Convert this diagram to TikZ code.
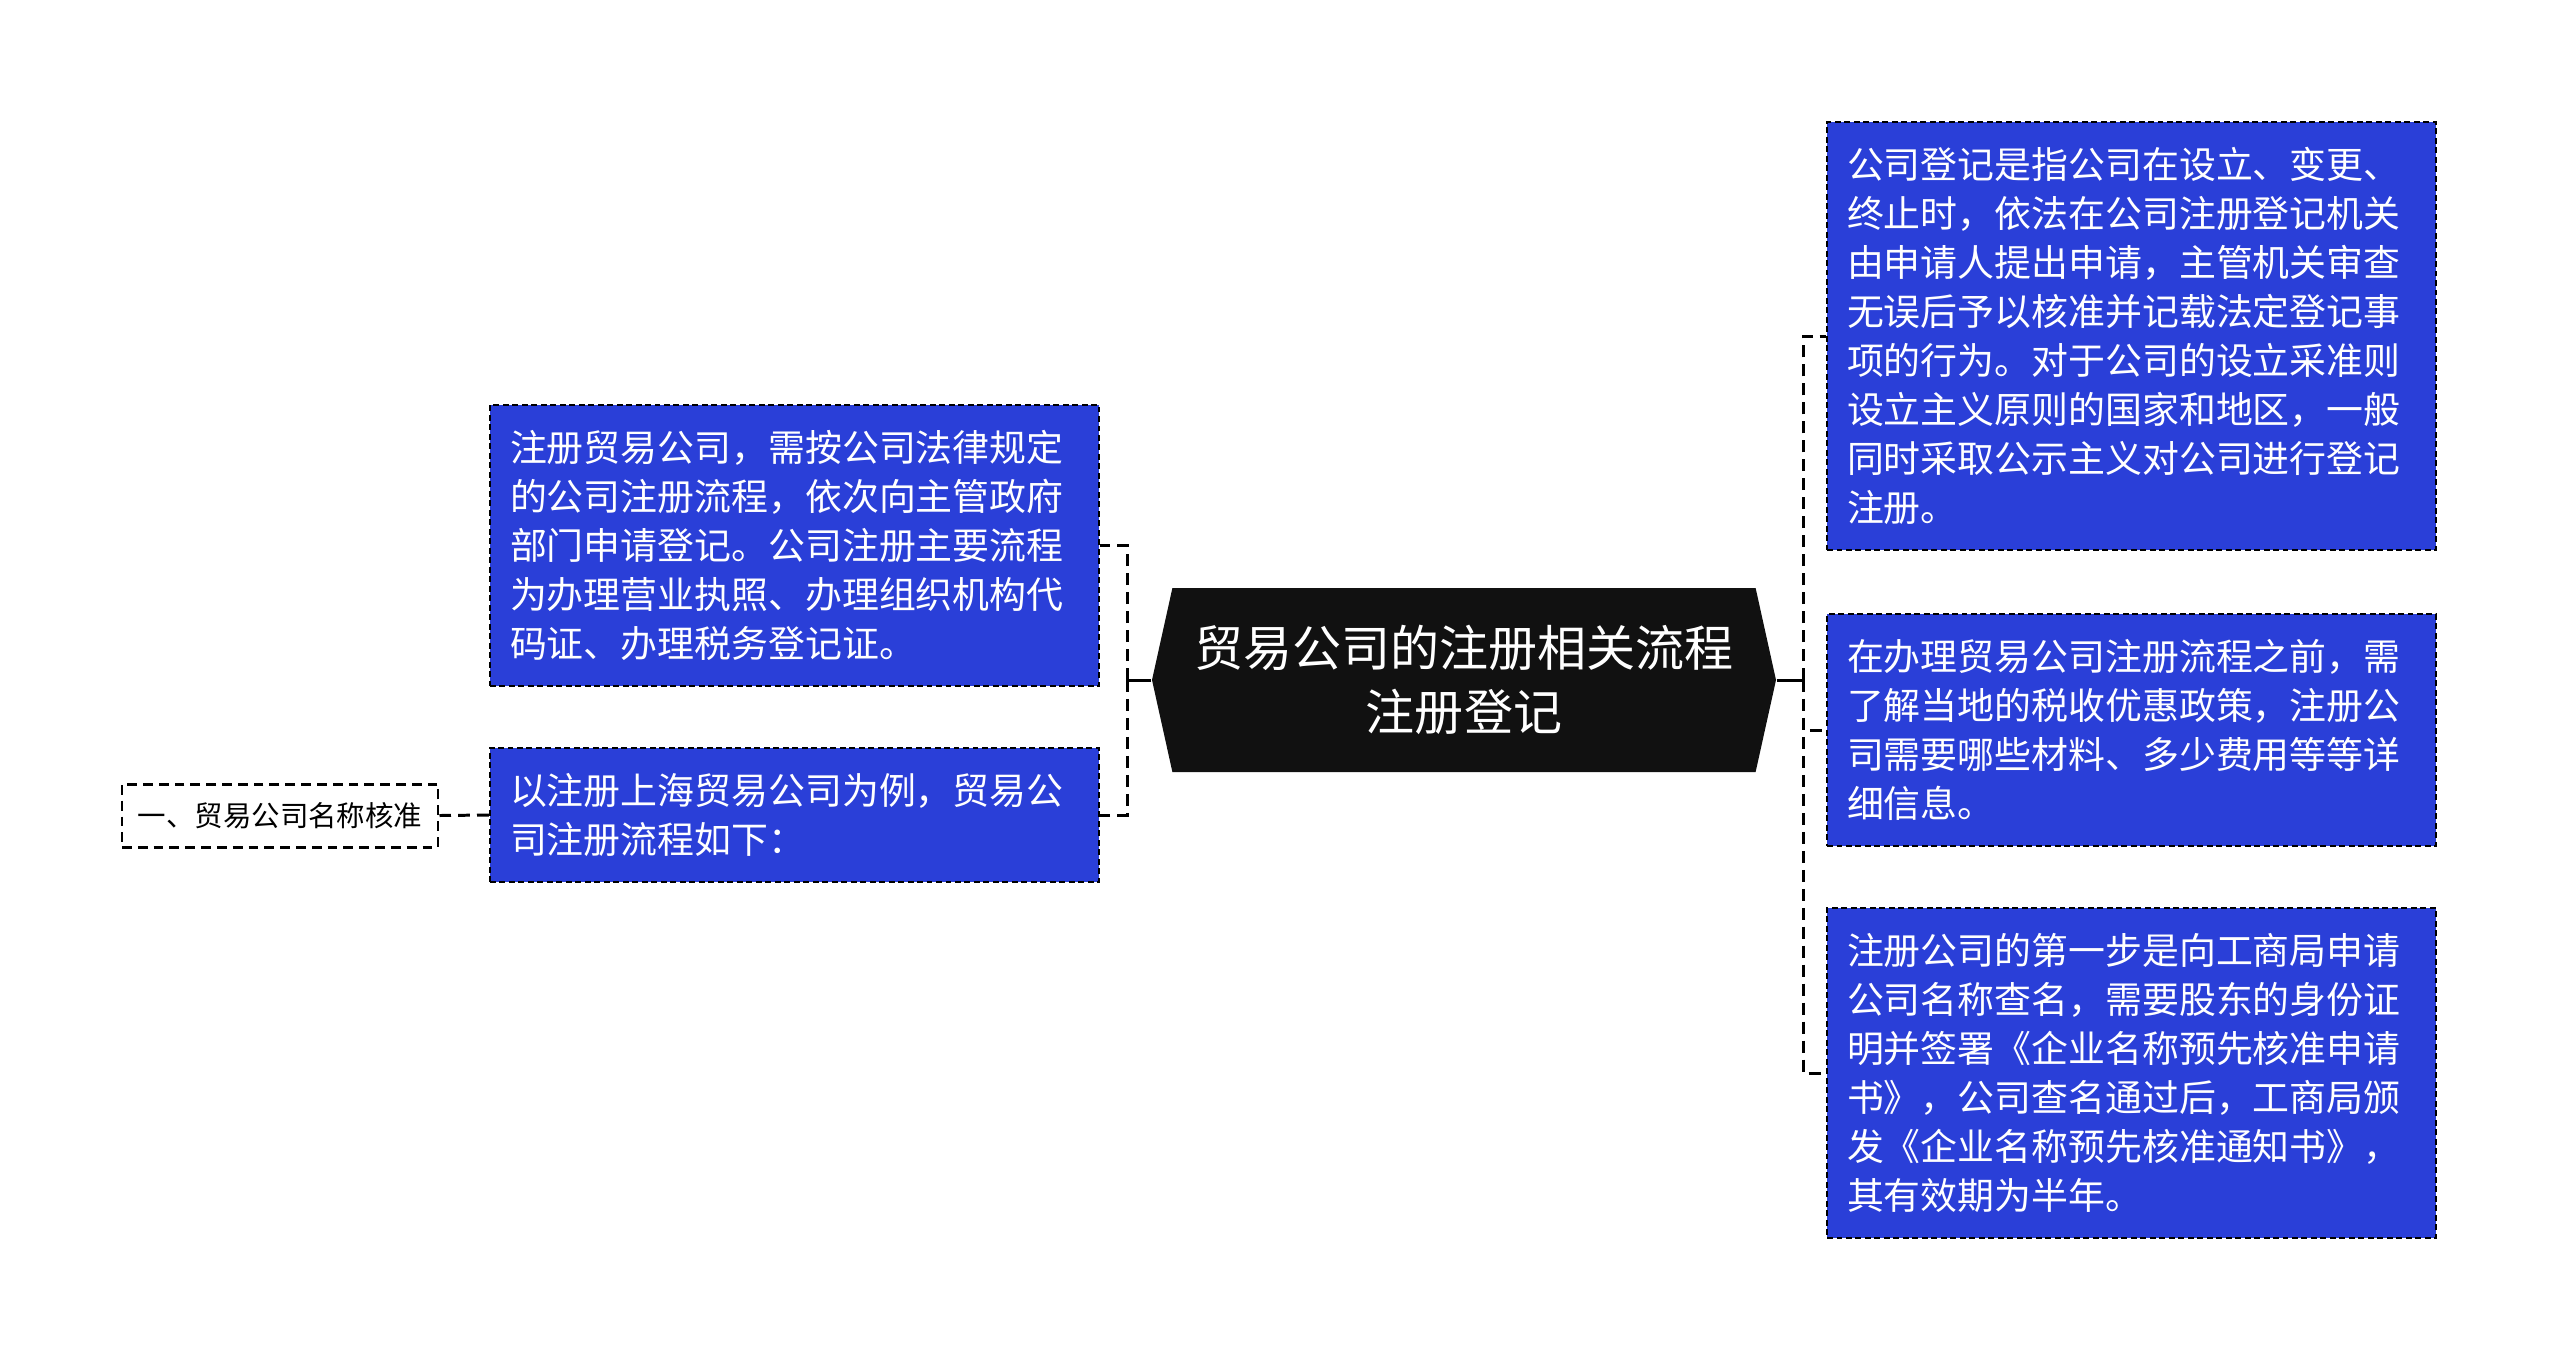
\documentclass[tikz,border=0pt]{standalone}
\usepackage{fontspec}
\setmainfont{Noto Sans CJK SC}
\usetikzlibrary{shapes.symbols}

\definecolor{boxblue}{HTML}{2A3FD8}
\definecolor{topicblack}{HTML}{111111}

\tikzset{
  topic/.style={shape=signal, signal to=west and east, signal pointer angle=155,
    fill=topicblack, text=white, minimum width=6.24cm, minimum height=1.84cm,
    inner sep=0pt, align=center, font=\fontsize{13.95}{18.2}\selectfont},
  note/.style={rectangle, fill=boxblue, draw=black, line width=0.6pt,
    dash pattern=on 1.7pt off 1pt, text=white, text width=5.69cm,
    inner xsep=0.2cm, inner ysep=0pt, align=left,
    font=\fontsize{10.5}{13.94}\selectfont},
  leaf/.style={rectangle, fill=white, draw=black, line width=0.85pt,
    dash pattern=on 2.8pt off 1.7pt, minimum width=3.16cm, minimum height=0.63cm,
    inner sep=0pt, font=\fontsize{8.1}{10}\selectfont},
  link/.style={draw=black, line width=0.85pt, dash pattern=on 3.4pt off 2pt},
  stem/.style={draw=black, line width=0.85pt}
}

\begin{document}
\begin{tikzpicture}
  \useasboundingbox (0,0) rectangle (25.6,-13.62);

  \node[topic] (root) at (14.64,-6.80) {贸易公司的注册相关流程\\注册登记};

  % left side
  \node[note, minimum height=2.81cm] (lnote1) at (7.945,-5.455) {注册贸易公司，需按公司法律规定\\的公司注册流程，依次向主管政府\\部门申请登记。公司注册主要流程\\为办理营业执照、办理组织机构代\\码证、办理税务登记证。};
  \node[note, minimum height=1.34cm] (lnote2) at (7.945,-8.15) {以注册上海贸易公司为例，贸易公\\司注册流程如下：};
  \node[leaf] (name) at (2.80,-8.155) {一、贸易公司名称核准};

  % right side
  \node[note, minimum height=4.28cm] (rnote1) at (21.315,-3.36) {公司登记是指公司在设立、变更、\\终止时，依法在公司注册登记机关\\由申请人提出申请，主管机关审查\\无误后予以核准并记载法定登记事\\项的行为。对于公司的设立采准则\\设立主义原则的国家和地区，一般\\同时采取公示主义对公司进行登记\\注册。};
  \node[note, minimum height=2.32cm] (rnote2) at (21.315,-7.30) {在办理贸易公司注册流程之前，需\\了解当地的税收优惠政策，注册公\\司需要哪些材料、多少费用等等详\\细信息。};
  \node[note, minimum height=3.30cm] (rnote3) at (21.315,-10.73) {注册公司的第一步是向工商局申请\\公司名称查名，需要股东的身份证\\明并签署《企业名称预先核准申请\\书》，公司查名通过后，工商局颁\\发《企业名称预先核准通知书》，\\其有效期为半年。};

  \coordinate (ljoin) at (11.27,-6.80);
  \coordinate (rjoin) at (18.03,-6.80);

  \draw[stem] (root.west) -- (ljoin);
  \draw[link] (ljoin) |- (lnote1.east);
  \draw[link] (ljoin) |- (lnote2.east);
  \draw[link] (lnote2.west) -- (name.east);

  \draw[stem] (root.east) -- (rjoin);
  \draw[link] (rjoin) |- (rnote1.west);
  \draw[link] (rjoin) |- (rnote2.west);
  \draw[link] (rjoin) |- (rnote3.west);
\end{tikzpicture}
\end{document}
